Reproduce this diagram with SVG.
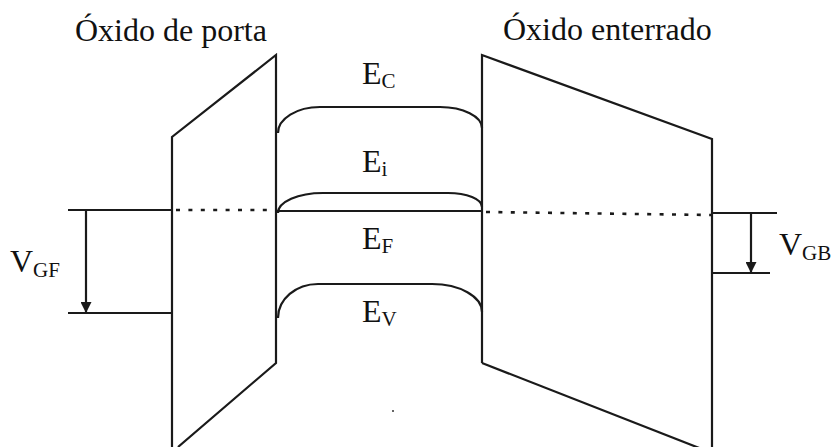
<svg xmlns="http://www.w3.org/2000/svg" width="833" height="447" viewBox="0 0 833 447">
<defs>
<style>
.ln{fill:none;stroke:#1a1a1a;stroke-width:2.2}
.dot{fill:none;stroke:#1a1a1a;stroke-width:2.6;stroke-dasharray:4 8.4}
.t{font-family:"Liberation Serif","Times New Roman",serif;fill:#111}
.big{font-size:32px}
.e{font-size:32px}
.s{font-size:21px}
</style>
<marker id="ah" viewBox="0 0 10 10" refX="10" refY="5" markerWidth="11" markerHeight="11" markerUnits="userSpaceOnUse" orient="auto">
<path d="M0,0 L10,5 L0,10 Z" fill="#1a1a1a"/>
</marker>
</defs>
<rect width="833" height="447" fill="#fff"/>
<g id="oxido-porta">
<path class="ln" d="M172,447 L172,137 L276,55 L276,363 L178,447"/>
</g>
<g id="oxido-enterrado">
<path class="ln" d="M482,363 L482,55 L712,139 L712,447"/>
<path class="ln" d="M482,363 L712,453"/>
</g>
<g id="bandas">
<path id="Ec" class="ln" d="M278,133 A42,26 0 0 1 320,107 L440,107 A42,21 0 0 1 482,128"/>
<path id="Ei" class="ln" d="M278,213 A45,20 0 0 1 323,193 L448,193 A34,14 0 0 1 482,207"/>
<path id="Ef" class="ln" d="M276,211 L482,211"/>
<path id="Ev" class="ln" d="M278,318 A40,34 0 0 1 318,284 L432,284 A50,28 0 0 1 482,312"/>
</g>
<g id="connectors">
<path class="dot" d="M176,210 L276,210"/>
<path class="dot" d="M486,212 L712,215"/>
<path class="ln" d="M68,210 L172,210"/>
<path class="ln" d="M68,313 L172,313"/>
<path class="ln" d="M712,213 L777,213"/>
<path class="ln" d="M712,273 L770,273"/>
<path class="ln" d="M86,210 L86,313" marker-end="url(#ah)"/>
<path class="ln" d="M751,213 L751,273" marker-end="url(#ah)"/>
</g>
<circle cx="393" cy="411" r="1" fill="#333"/>
<g id="labels">
<text class="t big" x="75" y="41">Óxido de porta</text>
<text class="t big" x="503" y="40">Óxido enterrado</text>
<text class="t e" x="362" y="84">E<tspan class="s" dy="4">C</tspan></text>
<text class="t e" x="362" y="172">E<tspan class="s" dy="4">i</tspan></text>
<text class="t e" x="362" y="249">E<tspan class="s" dy="4">F</tspan></text>
<text class="t e" x="362" y="322">E<tspan class="s" dy="4">V</tspan></text>
<text class="t e" x="10" y="272">V<tspan class="s" dy="5">GF</tspan></text>
<text class="t e" x="779" y="255">V<tspan class="s" dy="5">GB</tspan></text>
</g>
</svg>
